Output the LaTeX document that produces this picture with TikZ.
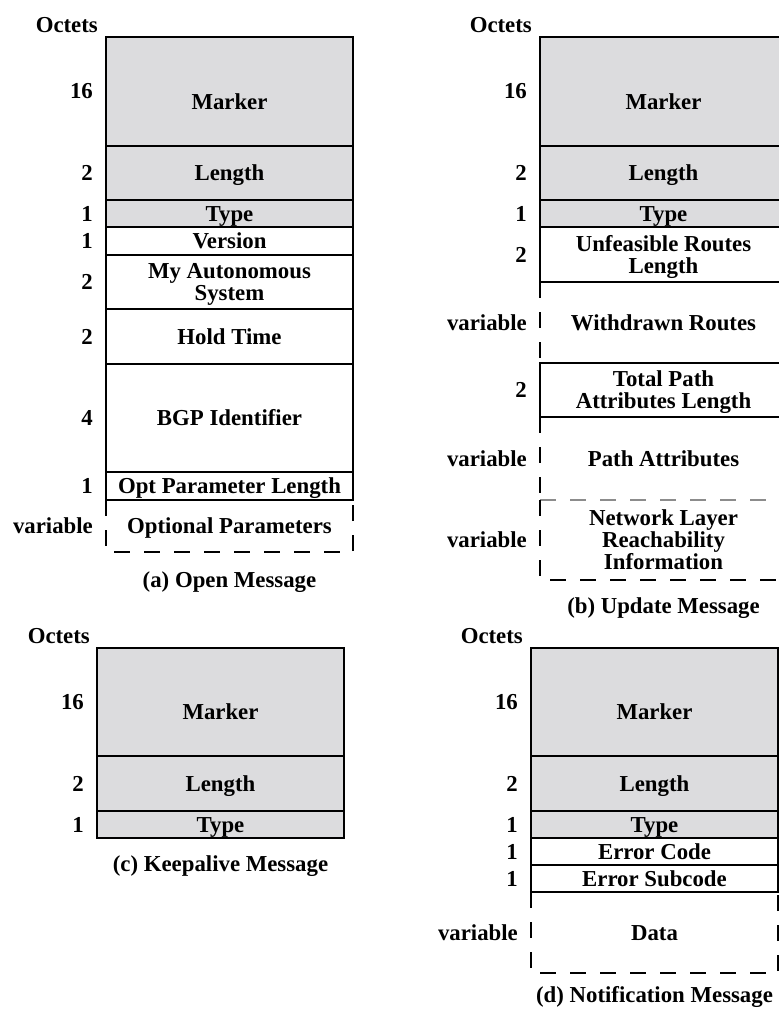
\documentclass[tikz,border=0pt]{standalone}
\usepackage{fontspec}
\setmainfont{Liberation Serif}
\usetikzlibrary{positioning}
\definecolor{bgpgray}{HTML}{DCDCDE}
\newcommand{\bgpfont}{\fontsize{22.8}{22}\selectfont\bfseries}
\tikzset{
  field/.style={draw=black, line width=2.6pt, minimum width=247pt, inner sep=0pt, outer sep=0pt, align=center, text height=15.6pt, text depth=0pt, font=\bgpfont},
  hdrfield/.style={field, fill=bgpgray},
  varfield/.style={field, draw=none},
  markfield/.style={hdrfield, minimum height=108pt, text height=35pt},
  twoline/.style={text height=37.6pt},
  threeline/.style={text height=59.6pt},
  octnum/.style={inner sep=0pt, anchor=east, font=\bgpfont},
  octhead/.style={inner sep=0pt, font=\bgpfont},
  caption/.style={inner sep=0pt, font=\bgpfont},
  dashline/.style={line width=2.6pt, dash pattern=on 16pt off 14pt}
}

\begin{document}
\begin{tikzpicture}[x=1pt, y=-1pt]
  \useasboundingbox (0,0) rectangle (779,1010);
  \clip (0,0) rectangle (779,1010);

  % (a) Open Message
  \node[markfield, minimum height=109pt, anchor=north west] (amark) at (106,37) {Marker};
  \node[hdrfield, minimum height=54pt, below=0pt of amark] (alen) {Length};
  \node[hdrfield, minimum height=27pt, below=0pt of alen] (atype) {Type};
  \node[field, minimum height=28pt, below=0pt of atype] (aver) {Version};
  \node[field, twoline, minimum height=54pt, below=0pt of aver] (aas) {My Autonomous\\System};
  \node[field, minimum height=55pt, below=0pt of aas] (ahold) {Hold Time};
  \node[field, minimum height=108pt, below=0pt of ahold] (abgp) {BGP Identifier};
  \node[field, minimum height=28pt, below=0pt of abgp] (aoptlen) {Opt Parameter Length};
  \node[varfield, minimum height=52pt, below=0pt of aoptlen] (aopt) {Optional Parameters};
  \draw[dashline] (aopt.north west) -- (aopt.south west) -- (aopt.south east) -- (aopt.north east);

  \node[octhead, above left=4pt and 8pt of amark.north west] (ahead) {Octets};
  \node[octnum, left=13pt of amark] {16};
  \node[octnum, left=13pt of alen] {2};
  \node[octnum, left=13pt of atype] {1};
  \node[octnum, left=13pt of aver] {1};
  \node[octnum, left=13pt of aas] {2};
  \node[octnum, left=13pt of ahold] {2};
  \node[octnum, left=13pt of abgp] {4};
  \node[octnum, left=13pt of aoptlen] {1};
  \node[octnum, left=13pt of aopt] {variable};
  \node[caption, below=19pt of aopt] (acap) {(a) Open Message};

  % (b) Update Message
  \node[markfield, minimum height=109pt, anchor=north west] (bmark) at (540,37) {Marker};
  \node[hdrfield, minimum height=54pt, below=0pt of bmark] (blen) {Length};
  \node[hdrfield, minimum height=27pt, below=0pt of blen] (btype) {Type};
  \node[field, twoline, minimum height=55pt, below=0pt of btype] (bunf) {Unfeasible Routes\\Length};
  \node[varfield, minimum height=81pt, below=0pt of bunf] (bwd) {Withdrawn Routes};
  \node[field, twoline, minimum height=54pt, below=0pt of bwd] (btot) {Total Path\\Attributes Length};
  \node[varfield, minimum height=83pt, below=0pt of btot] (bpath) {Path Attributes};
  \node[varfield, threeline, minimum height=80pt, below=0pt of bpath] (bnlri) {Network Layer\\Reachability\\Information};
  \draw[dashline] (bwd.north west) -- (bwd.south west);
  \draw[dashline] (bwd.north east) -- (bwd.south east);
  \draw[dashline] (bpath.north west) -- (bpath.south west);
  \draw[dashline] (bpath.north east) -- (bpath.south east);
  \draw[dashline, draw=black!45] (bnlri.north west) -- (bnlri.north east);
  \draw[dashline] (bnlri.north west) -- (bnlri.south west) -- (bnlri.south east) -- (bnlri.north east);

  \node[octhead, above left=4pt and 8pt of bmark.north west] (bhead) {Octets};
  \node[octnum, left=13pt of bmark] {16};
  \node[octnum, left=13pt of blen] {2};
  \node[octnum, left=13pt of btype] {1};
  \node[octnum, left=13pt of bunf] {2};
  \node[octnum, left=13pt of bwd] {variable};
  \node[octnum, left=13pt of btot] {2};
  \node[octnum, left=13pt of bpath] {variable};
  \node[octnum, left=13pt of bnlri] {variable};
  \node[caption, below=17pt of bnlri] (bcap) {(b) Update Message};

  % (c) Keepalive Message
  \node[markfield, anchor=north west] (cmark) at (97,648) {Marker};
  \node[hdrfield, minimum height=55pt, below=0pt of cmark] (clen) {Length};
  \node[hdrfield, minimum height=27pt, below=0pt of clen] (ctype) {Type};

  \node[octhead, above left=4pt and 7pt of cmark.north west] (chead) {Octets};
  \node[octnum, left=13pt of cmark] {16};
  \node[octnum, left=13pt of clen] {2};
  \node[octnum, left=13pt of ctype] {1};
  \node[caption, below=17pt of ctype] (ccap) {(c) Keepalive Message};

  % (d) Notification Message
  \node[markfield, anchor=north west] (dmark) at (531,648) {Marker};
  \node[hdrfield, minimum height=55pt, below=0pt of dmark] (dlen) {Length};
  \node[hdrfield, minimum height=27pt, below=0pt of dlen] (dtype) {Type};
  \node[field, minimum height=27pt, below=0pt of dtype] (derr) {Error Code};
  \node[field, minimum height=27pt, below=0pt of derr] (dsub) {Error Subcode};
  \node[varfield, minimum height=81pt, below=0pt of dsub] (ddata) {Data};
  \draw[dashline] (ddata.north west) -- (ddata.south west) -- (ddata.south east) -- (ddata.north east);

  \node[octhead, above left=4pt and 8pt of dmark.north west] (dhead) {Octets};
  \node[octnum, left=13pt of dmark] {16};
  \node[octnum, left=13pt of dlen] {2};
  \node[octnum, left=13pt of dtype] {1};
  \node[octnum, left=13pt of derr] {1};
  \node[octnum, left=13pt of dsub] {1};
  \node[octnum, left=13pt of ddata] {variable};
  \node[caption, below=13pt of ddata] (dcap) {(d) Notification Message};
\end{tikzpicture}
\end{document}
